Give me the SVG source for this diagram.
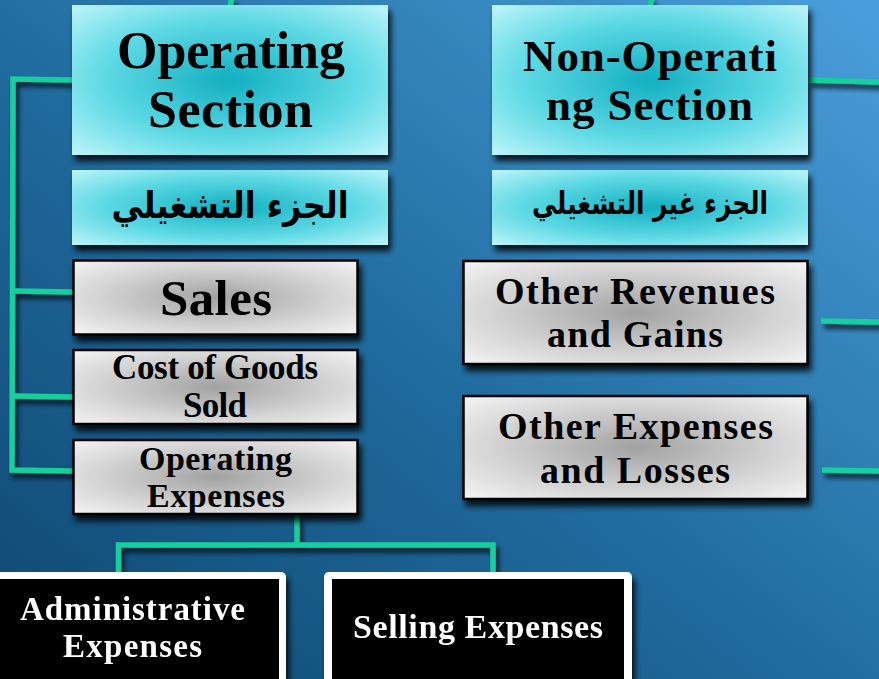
<svg xmlns="http://www.w3.org/2000/svg" width="879" height="679" viewBox="0 0 879 679">
<defs>
<linearGradient id="bg" x1="0" y1="1" x2="1" y2="0">
<stop offset="0" stop-color="#0e4670"/>
<stop offset="0.45" stop-color="#1f6a9c"/>
<stop offset="1" stop-color="#4a9fdc"/>
</linearGradient>
<radialGradient id="cyan" cx="0.5" cy="0.5" r="0.72">
<stop offset="0" stop-color="#12afc1"/>
<stop offset="0.55" stop-color="#5dd9e4"/>
<stop offset="1" stop-color="#c2f6fb"/>
</radialGradient>
<radialGradient id="gray" cx="0.5" cy="0.5" r="0.72">
<stop offset="0" stop-color="#a2a2a2"/>
<stop offset="0.6" stop-color="#d6d6d6"/>
<stop offset="1" stop-color="#f6f6f6"/>
</radialGradient>
<filter id="sh" x="-10%" y="-10%" width="125%" height="135%">
<feGaussianBlur in="SourceAlpha" stdDeviation="3"/>
<feOffset dx="3" dy="6" result="b"/>
<feComponentTransfer><feFuncA type="linear" slope="0.85"/></feComponentTransfer>
<feMerge><feMergeNode/><feMergeNode in="SourceGraphic"/></feMerge>
</filter>
<filter id="lsh" x="-20%" y="-20%" width="140%" height="140%">
<feGaussianBlur in="SourceAlpha" stdDeviation="2.5"/>
<feOffset dx="3" dy="5" result="b"/>
<feComponentTransfer><feFuncA type="linear" slope="0.7"/></feComponentTransfer>
<feMerge><feMergeNode/><feMergeNode in="SourceGraphic"/></feMerge>
</filter>
</defs>
<style>
.c{fill:url(#cyan);filter:url(#sh)}
.g{fill:url(#gray);stroke:#000;stroke-width:2.5;filter:url(#sh)}
.t{font-family:"Liberation Serif","Times New Roman",serif;font-weight:bold;fill:#000;text-anchor:middle}
.w{font-family:"Liberation Serif","Times New Roman",serif;font-weight:bold;fill:#fff;text-anchor:middle}
.ar{font-family:"DejaVu Sans","Noto Sans",sans-serif;font-weight:bold;fill:#000;text-anchor:middle}
.ln{fill:none;stroke:#12cf9c;stroke-width:5.5;stroke-linejoin:miter}
</style>
<rect x="0" y="0" width="879" height="679" fill="url(#bg)"/>

<g id="connectors" filter="url(#lsh)">
<line class="ln" x1="232" y1="-2" x2="230" y2="6"/>
<line class="ln" x1="652" y1="-2" x2="650" y2="6"/>
<polyline class="ln" points="75,80 13,79 12,470 75,471"/>
<line class="ln" x1="13" y1="291" x2="75" y2="292"/>
<line class="ln" x1="13" y1="396" x2="75" y2="397"/>
<line class="ln" x1="808" y1="80" x2="881" y2="82"/>
<line class="ln" x1="821" y1="321" x2="881" y2="322"/>
<line class="ln" x1="822" y1="470" x2="881" y2="471"/>
<line class="ln" x1="297" y1="515" x2="297" y2="546"/>
<polyline class="ln" points="118.5,590 118.5,545 493,545 493,590"/>
</g>

<g id="operating-section">
<rect class="c" x="72" y="5" width="316" height="150"/>
<text class="t" x="231" y="68" font-size="52" textLength="228">Operating</text>
<text class="t" x="230.5" y="127" font-size="52" textLength="165">Section</text>
</g>
<g id="operating-ar">
<rect class="c" x="72" y="170" width="316" height="75"/>
<text class="ar" transform="translate(230 218) scale(0.86 1)" x="0" y="0" font-size="37" direction="rtl">الجزء التشغيلي</text>
</g>
<g id="sales">
<rect class="g" x="73.5" y="260.5" width="284" height="74"/>
<text class="t" x="216" y="315" font-size="51" textLength="112">Sales</text>
</g>
<g id="cogs">
<rect class="g" x="73.5" y="350" width="284" height="74"/>
<text class="t" x="215" y="379" font-size="35" textLength="206">Cost of Goods</text>
<text class="t" x="215" y="417" font-size="35" textLength="64">Sold</text>
</g>
<g id="opex">
<rect class="g" x="73.5" y="440" width="284" height="74"/>
<text class="t" x="215.5" y="470" font-size="34" textLength="153">Operating</text>
<text class="t" x="216" y="507" font-size="34" textLength="138">Expenses</text>
</g>

<g id="non-operating-section">
<rect class="c" x="492" y="5" width="316" height="150"/>
<text class="t" x="650" y="71" font-size="45" textLength="254">Non-Operati</text>
<text class="t" x="649.5" y="120" font-size="45" textLength="207">ng Section</text>
</g>
<g id="non-operating-ar">
<rect class="c" x="492" y="170" width="316" height="75"/>
<text class="ar" transform="translate(650 214) scale(0.8 1)" x="0" y="0" font-size="31" direction="rtl">الجزء غير التشغيلي</text>
</g>
<g id="other-revenues">
<rect class="g" x="463.5" y="261" width="344" height="103"/>
<text class="t" x="635" y="304" font-size="38" textLength="280">Other Revenues</text>
<text class="t" x="635" y="347" font-size="38" textLength="176">and Gains</text>
</g>
<g id="other-expenses">
<rect class="g" x="463.5" y="396" width="344" height="103"/>
<text class="t" x="635.5" y="439" font-size="38" textLength="275">Other Expenses</text>
<text class="t" x="635" y="483" font-size="38" textLength="190">and Losses</text>
</g>

<g id="admin-expenses" filter="url(#sh)">
<rect x="-10" y="572" width="296" height="120" rx="5" fill="#fff"/>
<rect x="-10" y="579" width="289" height="110" fill="#000"/>
<text class="w" x="132.5" y="620" font-size="33" textLength="225">Administrative</text>
<text class="w" x="132.5" y="657" font-size="33" textLength="139">Expenses</text>
</g>
<g id="selling-expenses" filter="url(#sh)">
<rect x="324" y="572" width="308" height="120" rx="5" fill="#fff"/>
<rect x="332" y="579" width="292" height="110" fill="#000"/>
<text class="w" x="478" y="638" font-size="34" textLength="250">Selling Expenses</text>
</g>
</svg>
